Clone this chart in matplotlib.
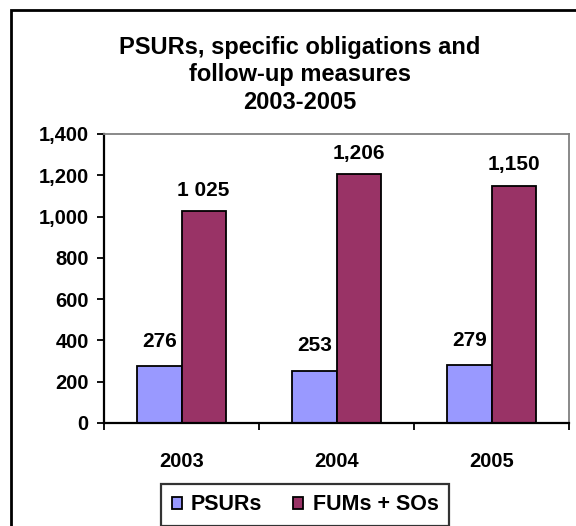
import matplotlib
matplotlib.use("Agg")
import matplotlib.pyplot as plt
from matplotlib.patches import Rectangle
import numpy as np

plt.rcParams['font.family'] = ['Liberation Sans', 'DejaVu Sans']
plt.rcParams['font.weight'] = 'bold'

years = ["2003", "2004", "2005"]
psurs = [276, 253, 279]
fums = [1025, 1206, 1150]
psurs_labels = ["276", "253", "279"]
fums_labels = ["1 025", "1,206", "1,150"]
yticks = [0, 200, 400, 600, 800, 1000, 1200, 1400]
ytick_labels = ["0", "200", "400", "600", "800", "1,000", "1,200", "1,400"]

W, H = 576, 526
fig = plt.figure(figsize=(W/100, H/100), dpi=100)
ax = fig.add_axes([104/W, 1-423/H, (569-104)/W, (423-134)/H])

FS = 14.5
x = np.arange(len(years))
bw = 0.285
b1 = ax.bar(x - bw/2, psurs, bw, color='#9999FF', edgecolor='black', linewidth=1.3, label='PSURs')
b2 = ax.bar(x + bw/2, fums, bw, color='#993366', edgecolor='black', linewidth=1.3, label='FUMs + SOs')

for xi, v, t in zip(x - bw/2, psurs, psurs_labels):
    ax.annotate(t, (xi, v), xytext=(0, 11), textcoords='offset points',
                ha='center', va='bottom', fontsize=15, fontweight='bold')
for xi, v, t in zip(x + bw/2, fums, fums_labels):
    ax.annotate(t, (xi, v), xytext=(0, 8), textcoords='offset points',
                ha='center', va='bottom', fontsize=15, fontweight='bold')

ax.set_xlim(-0.5, 2.5)
ax.set_ylim(0, 1400)
ax.set_yticks(yticks)
ax.set_yticklabels(ytick_labels, fontsize=FS, fontweight='bold')
ax.tick_params(axis='y', direction='out', length=5, width=1.3, pad=6)
ax.set_xticks(x)
ax.set_xticklabels(years, fontsize=FS, fontweight='bold')
ax.tick_params(axis='x', which='major', length=0, pad=21)
ax.set_xticks([-0.5, 0.5, 1.5, 2.5], minor=True)
ax.tick_params(axis='x', which='minor', direction='out', length=5, width=1.3)

for s in ['left', 'bottom']:
    ax.spines[s].set_color('black')
    ax.spines[s].set_linewidth(1.6)
for s in ['top', 'right']:
    ax.spines[s].set_color('#808080')
    ax.spines[s].set_linewidth(1.3)

fig.text(300/W, 1-75/H, "PSURs, specific obligations and\nfollow-up measures\n2003-2005",
         ha='center', va='center', fontsize=17, fontweight='bold', linespacing=1.27)

leg = fig.legend(handles=[b1, b2], loc='center', bbox_to_anchor=(305/W, 1-505/H),
                 ncol=2, frameon=True, fancybox=False, edgecolor='black',
                 prop={'weight': 'bold', 'size': 15.5},
                 handlelength=0.47, handleheight=0.47, handletextpad=0.42,
                 columnspacing=1.45, borderpad=0.5)
leg.get_frame().set_linewidth(1.6)

fig.patches.append(Rectangle((11/W, -0.05), 1.2, 1 - 10/H + 0.05, transform=fig.transFigure,
                             fill=False, edgecolor='black', linewidth=2))

fig.savefig("out.png", dpi=100)
